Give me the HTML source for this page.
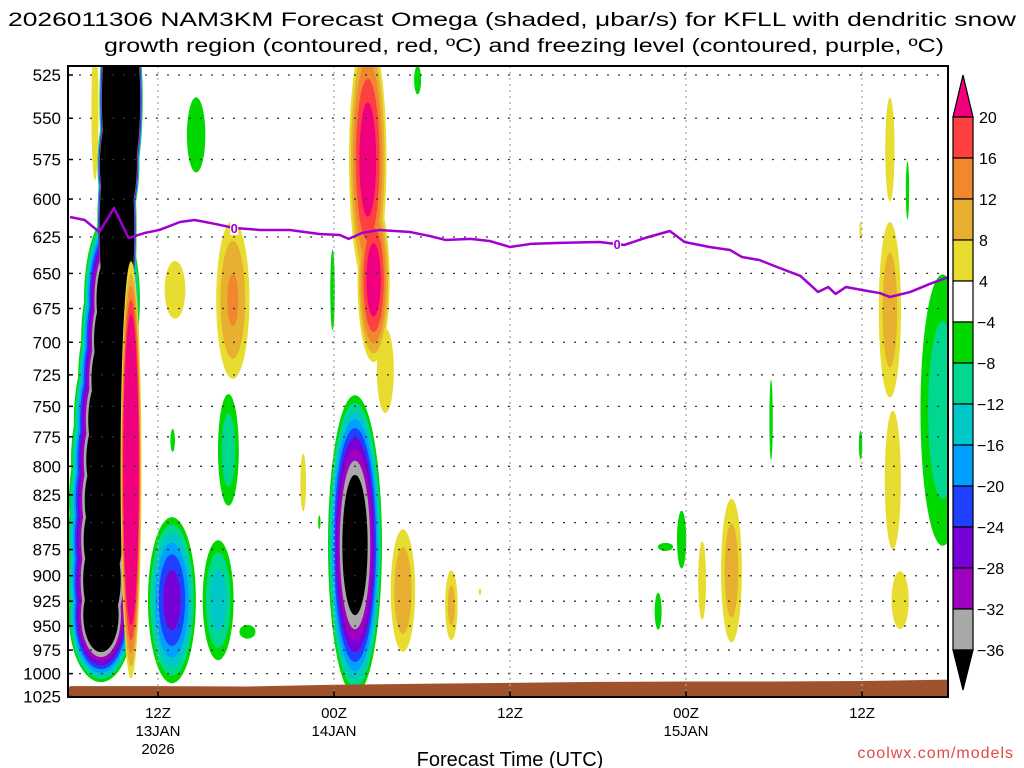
<!DOCTYPE html>
<html><head><meta charset="utf-8"><style>
body{margin:0;background:#fff;}
svg{display:block;font-family:"Liberation Sans",sans-serif;}
</style></head><body>
<svg id="chart" width="1024" height="768" viewBox="0 0 1024 768">
<defs><clipPath id="plotclip"><rect x="68" y="66" width="880" height="631"/></clipPath></defs>
<g font-size="19" fill="#000">
<text x="512" y="26" text-anchor="middle" textLength="1008" lengthAdjust="spacingAndGlyphs">2026011306 NAM3KM Forecast Omega (shaded, μbar/s) for KFLL with dendritic snow</text>
<text x="524" y="52" text-anchor="middle" textLength="840" lengthAdjust="spacingAndGlyphs">growth region (contoured, red, ºC) and freezing level (contoured, purple, ºC)</text>
</g>
<rect x="68" y="66" width="880" height="631" fill="#fff"/>
<g id="shading" clip-path="url(#plotclip)"></g>
<g id="ground" clip-path="url(#plotclip)"></g>
<g id="grid"></g>
<g id="frz" clip-path="url(#plotclip)"></g>
<rect x="68" y="66" width="880" height="631" fill="none" stroke="#000" stroke-width="2"/>
<g id="yaxis" font-size="17"></g>
<g id="xaxis" font-size="15"></g>
<text x="510" y="766" text-anchor="middle" font-size="20">Forecast Time (UTC)</text>
<text x="1014" y="758" text-anchor="end" font-size="16" fill="#e04848" letter-spacing="1">coolwx.com/models</text>
<g id="cbar" font-size="16"></g>
</svg>
<script>
// ---- data ----
const presTicks = [525,550,575,600,625,650,675,700,725,750,775,800,825,850,875,900,925,950,975,1000,1025];
const timeTickHours = [6,18,30,42,54];
const timeTickLabels = ["12Z","00Z","12Z","00Z","12Z"];
const timeTickDates = ["13JAN","14JAN","","15JAN",""];
const posLevels = [4,8,12,16,20];
const negLevels = [4,8,12,16,20,24,28,32,36];
const colorbarLabels = ["20","16","12","8","4","\u22124","\u22128","\u221212","\u221216","\u221220","\u221224","\u221228","\u221232","\u221236"];
// negative omega cells (upward motion): hour, pressure, half-width(h), half-height(hPa), peak
const negHour = [3.48,3.2,3.3,2.86,2.73,2.59,2.45,2.39,2.32,2.25,2.18,2.11,6.95,10.1,12.1,10.8,7.0,8.6,17.9,17.0,23.7,19.43,40.1,41.7,47.8,53.9,57.1,59.5,40.6];
const negPres = [539,620.5,578,668.8,698.3,729,761.1,794.6,829.6,866,904.2,938.9,924,924,956,786,778,560,661.6,849.6,527.8,870.7,935,865.6,761,782,594.5,753,872.5];
const negDh   = [1.5,1.36,1.45,1.99,2.06,2.13,2.28,2.42,2.49,2.49,2.42,2.28,1.77,1.23,0.95,0.89,0.27,1.09,0.27,0.14,0.41,1.93,0.41,0.55,0.2,0.2,0.2,1.9,0.9];
const negDp   = [65,84,43.5,64.8,67.6,70.6,73.7,77,80.4,83.9,87.6,70.7,89.5,69.6,12.3,59.2,16.7,39.2,49.8,11,14.2,147,32.2,46.6,57.3,21,32,137.8,6.6];
const negPeak = [-150,-150,-150,-50,-50,-50,-50,-50,-50,-50,-50,-50,-27,-15,-6,-11,-6,-6,-6,-6,-6,-45,-6,-6,-6,-6,-6,-11,-6];
// positive omega cells (downward motion)
const posHour = [4.16,1.7,7.16,11.1,15.9,20.3,20.7,21.5,22.7,26.0,27.95,43.1,45.1,55.9,55.9,56.1,56.6,53.9];
const posPres = [803,545,661.6,668.7,814,575,654.6,721.7,914.5,929,915.7,904.7,895,568.8,676,811.8,924,620.5];
const posDh   = [0.75,0.34,1.23,1.36,0.34,1.4,1.2,0.82,1.02,0.55,0.14,0.41,0.89,0.55,0.95,0.95,1.02,0.14];
const posDp   = [190,58.7,35.6,68.4,43.8,86.7,63.4,46.6,73.8,45,5.9,58.4,86.7,55.1,80,104.9,49.7,10];
const posPeak = [40,8,6,13,6,24,24,8,12,10,6,7,11,6,11,6,6,6];
// freezing level (0 C) pressure vs hour
const frzHour = [0,1,2,3,4,5.1,6.1,7.5,8.5,9.9,11.2,13,15,17,18.4,19,19.9,21.1,23.2,24.5,25.6,27.3,28.6,30,31.4,33.4,36.1,37.8,39.2,40.9,41.9,43.6,45,45.8,47,48.4,49.8,51,51.7,52.2,52.9,54,55.2,55.9,57.3,58.6,59.9];
const frzPres = [611.7,613.7,621.7,605.8,625.7,622.3,620.3,615,613.7,616.3,619,620.3,620.3,623,623.7,626.3,622.3,620.3,621.7,624.3,627,626.3,627.7,631.8,629.7,629,628.4,630.4,625.7,621,628.4,631.8,633.8,638.6,640.7,646.3,651.8,663.1,659.6,664.5,659.6,661.7,663.9,666.7,663.1,657.5,652.5];
const frzLabelHours = [11.2,37.3];
// surface pressure vs hour
const sfcHour = [0,6,12,18,24,30,36,42,48,54,60];
const sfcPres = [1013.5,1013.5,1014,1012,1011,1010,1009,1008.5,1008.5,1008,1006.5];

// ---- axis functions ----
const X0=68,X1=948,Y0=66,Y1=697;
function xOf(h){return 70 + h*14.667;}
function yOf(p){return 75 + Math.log(p/525)*929;}
function pxPerHpa(p){return 929/p;}
const NS="http://www.w3.org/2000/svg";
function mk(tag,attrs,parent){const e=document.createElementNS(NS,tag);for(const k in attrs)e.setAttribute(k,attrs[k]);parent.appendChild(e);return e;}

const posColors=["#e8dc30","#e8b030","#f08830","#ff4040","#f0007f"];
const negColors=["#00d800","#00d890","#00c8c8","#00a0ff","#2040ff","#7800d8","#a000c0","#a8a8a8","#000000"];

const shading=document.getElementById('shading');
function drawCells(hours,pres,dh,dp,peak,levels,colors,kind){
  for(let k=0;k<levels.length;k++){
    for(let i=0;i<hours.length;i++){
      const P=Math.abs(peak[i]);
      if(P<=levels[k])continue;
      const r=Math.sqrt(1-levels[k]/P);
      const e=mk('ellipse',{cx:xOf(hours[i]),cy:yOf(pres[i]),rx:dh[i]*14.667*r,ry:dp[i]*pxPerHpa(pres[i])*r,fill:colors[k]},shading);
      
      
    }
  }
}
drawCells(negHour,negPres,negDh,negDp,negPeak,negLevels,negColors,'upward-omega');
drawCells(posHour,posPres,posDh,posDp,posPeak,posLevels,posColors,'downward-omega');

// ground
const g=document.getElementById('ground');
let gd='M'+xOf(sfcHour[0]-1)+','+(Y1+5);
for(let i=0;i<sfcHour.length;i++){gd+=' L'+xOf(sfcHour[i])+','+yOf(sfcPres[i]);}
gd+=' L'+(X1+5)+','+yOf(sfcPres[sfcPres.length-1])+' L'+(X1+5)+','+(Y1+5)+' Z';
const gp=mk('path',{d:gd,fill:'#a0522d'},g);



// grid
const grid=document.getElementById('grid');
presTicks.forEach(p=>{
  if(p>=1025)return;
  const l=mk('line',{x1:X0,x2:X1,y1:yOf(p),y2:yOf(p),stroke:'#333','stroke-width':1.3,'stroke-dasharray':'2 9'},grid);
  
  
});
timeTickHours.forEach(h=>{
  const l=mk('line',{x1:xOf(h),x2:xOf(h),y1:Y0,y2:Y1,stroke:'#aaa','stroke-width':1.3,'stroke-dasharray':'2 4'},grid);
  
  
});

// freezing level
const frz=document.getElementById('frz');
let fd='';
for(let i=0;i<frzHour.length;i++){fd+=(i?' L':'M')+xOf(frzHour[i])+','+yOf(frzPres[i]);}
const fl=mk('path',{d:fd,fill:'none',stroke:'#a000d0','stroke-width':2.5,'stroke-linejoin':'round'},frz);


function interpFrz(h){for(let i=1;i<frzHour.length;i++){if(h<=frzHour[i]){const t=(h-frzHour[i-1])/(frzHour[i]-frzHour[i-1]);return frzPres[i-1]+t*(frzPres[i]-frzPres[i-1]);}}return frzPres[frzPres.length-1];}
frzLabelHours.forEach(h=>{
  const x=xOf(h),y=yOf(interpFrz(h));
  const b=mk('rect',{x:x-4,y:y-7,width:8,height:14,fill:'#fff'},frz);
  
  
  const t=mk('text',{x:x,y:y+5,'text-anchor':'middle','font-size':13,'font-weight':'bold',fill:'#a000d0'},frz);
  t.textContent='0';
  
  
});

// y axis
const ya=document.getElementById('yaxis');
presTicks.forEach(p=>{
  const t=mk('text',{x:61,y:yOf(p)+6,'text-anchor':'end'},ya);
  t.textContent=p;
  
  
  const tk=mk('line',{x1:X0,x2:X0+5,y1:yOf(p),y2:yOf(p),stroke:'#000','stroke-width':1.5},ya);
  
  
});
// x axis
const xa=document.getElementById('xaxis');
timeTickHours.forEach((h,i)=>{
  const x=xOf(h);
  const tk=mk('line',{x1:x,x2:x,y1:Y1,y2:Y1-6,stroke:'#000','stroke-width':1.5},xa);
  
  
  const t=mk('text',{x:x,y:718,'text-anchor':'middle'},xa);
  t.textContent=timeTickLabels[i];
  
  
  if(timeTickDates[i]){
    const d=mk('text',{x:x,y:736,'text-anchor':'middle'},xa);
    d.textContent=timeTickDates[i];
    
    
  }
});
const yr=mk('text',{x:xOf(6),y:754,'text-anchor':'middle'},xa);
yr.textContent='2026';



// colorbar
const cb=document.getElementById('cbar');
const cbColors=["#ff4040","#f08830","#e8b030","#e8dc30","#ffffff","#00d800","#00d890","#00c8c8","#00a0ff","#2040ff","#7800d8","#a000c0","#a8a8a8"];
const CX=953,CW=20,CT=117,CS=41;
const tri=mk('polygon',{points:`${CX},${CT} ${CX+CW},${CT} ${CX+CW/2},75`,fill:'#f0007f',stroke:'#000','stroke-width':1.2},cb);


cbColors.forEach((c,i)=>{
  const r=mk('rect',{x:CX,y:CT+i*CS,width:CW,height:CS,fill:c,stroke:'#000','stroke-width':1.2},cb);
  
  
});
const bot=CT+cbColors.length*CS;
const tri2=mk('polygon',{points:`${CX},${bot} ${CX+CW},${bot} ${CX+CW/2},690`,fill:'#000',stroke:'#000','stroke-width':1.2},cb);


colorbarLabels.forEach((s,i)=>{
  const t=mk('text',{x:s.startsWith('\u2212')?977:979,y:CT+i*CS+6},cb);
  t.textContent=s;
  
  
});
</script>
</body></html>
